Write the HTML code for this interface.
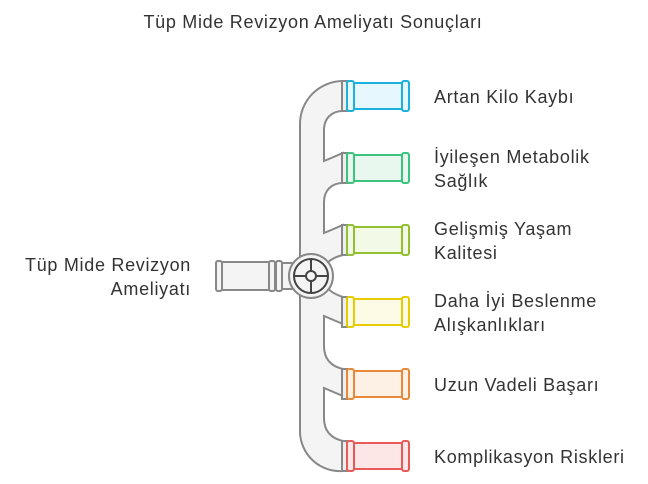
<!DOCTYPE html><html><head><style>body{margin:0;background:#fff}svg{display:block}text{font-family:"Liberation Sans",sans-serif;fill:#333;font-size:18px;letter-spacing:0.7px}</style></head><body>
<svg width="648" height="484" viewBox="0 0 648 484">
<text x="313" y="28" text-anchor="middle">Tüp Mide Revizyon Ameliyatı Sonuçları</text>
<path d="M343,81 A43,43 0 0 0 300,124 L300,432 A40,40 0 0 0 343,471 L343,441 C330,438 324,430 324,418 L324,388 L343,396 L343,369 C330,366 324,358 324,346 L324,316 L343,324 L343,297 C334,294 326,290 324,280 L324,268 C326,262 334,257 343,255 L343,225 L324,233 L324,202 C324,190 332,183 343,183 L343,153 L324,161 L324,130 C324,118 332,111 343,111 Z" fill="#f4f4f4" stroke="#888" stroke-width="2"/>
<g stroke="#888" stroke-width="2" fill="#f4f4f4">
<rect x="222" y="262" width="48" height="28"/>
<rect x="216" y="261" width="6" height="30" rx="2"/>
<rect x="269" y="261" width="6" height="30" rx="2"/>
<rect x="276" y="261" width="6" height="30" rx="2"/>
<rect x="282" y="263" width="10" height="26"/>
</g>
<g>
<circle cx="311" cy="276" r="22" fill="#f4f4f4" stroke="#888" stroke-width="2"/>
<circle cx="311" cy="276" r="17" fill="none" stroke="#444" stroke-width="2"/>
<circle cx="311" cy="276" r="5" fill="none" stroke="#444" stroke-width="2"/>
<path d="M294,276H306M316,276H328M311,259V271M311,281V293" stroke="#444" stroke-width="2"/>
</g>
<g stroke-width="2">
<g stroke="#888" fill="#eee"><rect x="342" y="81" width="5" height="30"/><rect x="342" y="153" width="5" height="30"/><rect x="342" y="225" width="5" height="30"/><rect x="342" y="297" width="5" height="30"/><rect x="342" y="369" width="5" height="30"/><rect x="342" y="441" width="5" height="30"/></g>
<g stroke="#1cb0e0" fill="#e6f7fd"><rect x="353" y="83" width="50" height="26"/><rect x="347" y="81" width="7" height="30" rx="2"/><rect x="402" y="81" width="7" height="30" rx="2"/></g>
<g stroke="#3cc47e" fill="#e8f8ef"><rect x="353" y="155" width="50" height="26"/><rect x="347" y="153" width="7" height="30" rx="2"/><rect x="402" y="153" width="7" height="30" rx="2"/></g>
<g stroke="#92c030" fill="#f2f9e6"><rect x="353" y="227" width="50" height="26"/><rect x="347" y="225" width="7" height="30" rx="2"/><rect x="402" y="225" width="7" height="30" rx="2"/></g>
<g stroke="#e6cc00" fill="#fdfbe6"><rect x="353" y="299" width="50" height="26"/><rect x="347" y="297" width="7" height="30" rx="2"/><rect x="402" y="297" width="7" height="30" rx="2"/></g>
<g stroke="#e8883a" fill="#fdf1e6"><rect x="353" y="371" width="50" height="26"/><rect x="347" y="369" width="7" height="30" rx="2"/><rect x="402" y="369" width="7" height="30" rx="2"/></g>
<g stroke="#e85a5a" fill="#fde6e6"><rect x="353" y="443" width="50" height="26"/><rect x="347" y="441" width="7" height="30" rx="2"/><rect x="402" y="441" width="7" height="30" rx="2"/></g>
</g>
<text x="434" y="103">Artan Kilo Kaybı</text>
<text x="434" y="163">İyileşen Metabolik</text><text x="434" y="187">Sağlık</text>
<text x="434" y="235">Gelişmiş Yaşam</text><text x="434" y="259">Kalitesi</text>
<text x="434" y="307">Daha İyi Beslenme</text><text x="434" y="331">Alışkanlıkları</text>
<text x="434" y="391">Uzun Vadeli Başarı</text>
<text x="434" y="463">Komplikasyon Riskleri</text>
<text x="191" y="271" text-anchor="end">Tüp Mide Revizyon</text><text x="191" y="295" text-anchor="end">Ameliyatı</text>
</svg></body></html>
